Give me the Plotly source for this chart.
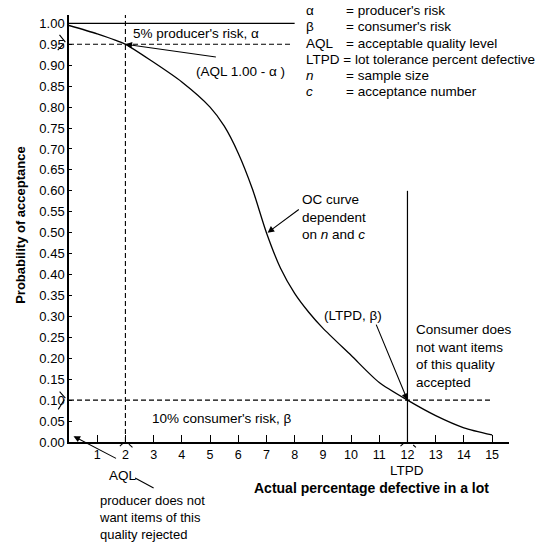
import plotly.graph_objects as go

# ---- data ----
pct_defective = [0, 1, 2, 3, 4, 5, 5.5, 6, 6.5, 7, 7.5, 8, 8.5, 9, 10, 11, 12, 13, 14, 15]
prob_accept = [0.995, 0.975, 0.95, 0.907, 0.86, 0.80, 0.755, 0.69, 0.605, 0.50, 0.415,
               0.355, 0.31, 0.272, 0.207, 0.142, 0.10, 0.063, 0.034, 0.017]
x_ticks = list(range(1, 16))
y_ticks = [round(i * 0.05, 2) for i in range(21)]
y_labels = [f"{v:.2f}" for v in y_ticks]
AQL = 2
LTPD = 12
ALPHA_LEVEL = 0.95
BETA = 0.10
legend_syms = ["α", "β", "AQL", "<i>n</i>", "<i>c</i>"]
legend_defs = ["= producer's risk", "= consumer's risk", "= acceptable quality level",
               "= sample size", "= acceptance number"]

FONT = "Liberation Sans, Arial, sans-serif"
X_RANGE = [0, 15.6]
Y_RANGE = [0, 1.02]
W, H = 541, 544
ML, MR, MT, MB = 69, 32, 15, 102
PW, PH = W - ML - MR, H - MT - MB
PX_X = PW / (X_RANGE[1] - X_RANGE[0])
PX_Y = PH / (Y_RANGE[1] - Y_RANGE[0])


def xp(x):
    return (x - X_RANGE[0]) / (X_RANGE[1] - X_RANGE[0])


def yp(y):
    return (y - Y_RANGE[0]) / (Y_RANGE[1] - Y_RANGE[0])


fig = go.Figure()
fig.add_trace(go.Scatter(x=pct_defective, y=prob_accept, mode="lines",
                         line=dict(color="black", width=1.3, shape="spline", smoothing=0.7),
                         hoverinfo="skip", showlegend=False))

# reference lines
fig.add_shape(type="line", x0=0, x1=8, y0=1.0, y1=1.0, line=dict(color="black", width=1.2))
fig.add_shape(type="line", x0=0, x1=7.9, y0=ALPHA_LEVEL, y1=ALPHA_LEVEL,
              line=dict(color="black", width=1.1, dash="5px,3px"))
fig.add_shape(type="line", x0=AQL, x1=AQL, y0=0, y1=1.03,
              line=dict(color="black", width=1.1, dash="5px,3px"))
fig.add_shape(type="line", x0=0, x1=15, y0=BETA, y1=BETA,
              line=dict(color="black", width=1.1, dash="5px,3px"))
fig.add_shape(type="line", x0=LTPD, x1=LTPD, y0=0, y1=0.60,
              line=dict(color="black", width=1.2))

ann = []


def text(x, y, t, xanchor="left", yanchor="middle", size=13.5, bold=False, align="left"):
    if bold:
        t = f"<b>{t}</b>"
    ann.append(dict(x=xp(x), y=yp(y), xref="paper", yref="paper", text=t, showarrow=False,
                    xanchor=xanchor, yanchor=yanchor, align=align,
                    xshift=-3 if xanchor == "left" else 0,
                    font=dict(family=FONT, size=size, color="black")))


def seg(x0, y0, x1, y1, head=0, width=1.1):
    ann.append(dict(x=xp(x1), y=yp(y1), xref="paper", yref="paper",
                    axref="pixel", ayref="pixel",
                    ax=(x0 - x1) * PX_X, ay=-(y0 - y1) * PX_Y,
                    text="", showarrow=True, arrowhead=head, arrowsize=1.2,
                    arrowwidth=width, arrowcolor="black", standoff=0, startstandoff=0))


# annotations
text(2.29, 0.976, "5% producer's risk, α")
seg(5.26, 0.919, AQL, ALPHA_LEVEL, head=2)
text(4.55, 0.885, "(AQL 1.00 - α )")
text(8.28, 0.537, "OC curve<br>dependent<br>on <i>n</i> and <i>c</i>")
seg(8.2, 0.558, 7.04, 0.50, head=2)
text(10.06, 0.303, "(LTPD, β)", xanchor="center")
seg(10.87, 0.284, LTPD, BETA, head=2)
text(12.35, 0.205, "Consumer does<br>not want items<br>of this quality<br>accepted")
text(2.99, 0.057, "10% consumer's risk, β")
seg(1.72, -0.041, 0.16, 0.014, head=2)
text(1.93, -0.079, "AQL", xanchor="center")
seg(2.29, -0.084, 3.0, -0.11)
text(1.11, -0.181, "producer does not<br>want items of this<br>quality rejected", size=13)
text(LTPD, -0.069, "LTPD", xanchor="center")
text(10.73, -0.11, "Actual percentage defective in a lot", xanchor="center", size=14, bold=True)
ann.append(dict(x=xp(-1.72), y=yp(0.52), xref="paper", yref="paper",
                text="<b>Probability of acceptance</b>",
                showarrow=False, textangle=-90, xanchor="center", yanchor="middle",
                font=dict(family=FONT, size=13, color="black")))

# legend block
leg_y = [1.031, 0.993, 0.952, 0.876, 0.838]
for s, d, yy in zip(legend_syms, legend_defs, leg_y):
    text(8.45, yy, s)
    text(9.87, yy, d)
text(8.45, 0.914, "LTPD = lot tolerance percent defective")

# axis break marks
seg(-0.38, 0.976, -0.13, 0.955)
seg(-0.13, 0.955, -0.40, 0.936)
seg(-0.38, 0.124, -0.13, 0.105)
seg(-0.13, 0.105, -0.38, 0.078)
seg(1.75, -0.013, 1.93, -0.002)
seg(2.07, -0.002, 2.25, -0.013)
seg(11.7, -0.013, 11.85, -0.004)
seg(12.15, -0.004, 12.3, -0.013)

fig.update_layout(
    width=W, height=H,
    margin=dict(l=ML, r=MR, t=MT, b=MB, autoexpand=False),
    paper_bgcolor="white", plot_bgcolor="white",
    annotations=ann, showlegend=False,
    font=dict(family=FONT, size=12, color="black"),
    xaxis=dict(range=X_RANGE, tickvals=x_ticks, ticktext=[str(v) for v in x_ticks],
               ticks="inside", ticklen=7, tickwidth=1.2, tickcolor="black",
               showline=True, linecolor="black", linewidth=1.5, showgrid=False,
               zeroline=False, tickfont=dict(size=12.5, family=FONT)),
    yaxis=dict(range=Y_RANGE, tickvals=y_ticks, ticktext=y_labels,
               ticks="inside", ticklen=3, tickwidth=1.2, tickcolor="black",
               showline=True, linecolor="black", linewidth=1.5, showgrid=False,
               zeroline=False, tickfont=dict(size=13, family=FONT)),
)

fig.write_html("out.html", config={"displayModeBar": False},
               post_script="document.body.style.margin='0px';document.body.style.overflow='hidden';")
